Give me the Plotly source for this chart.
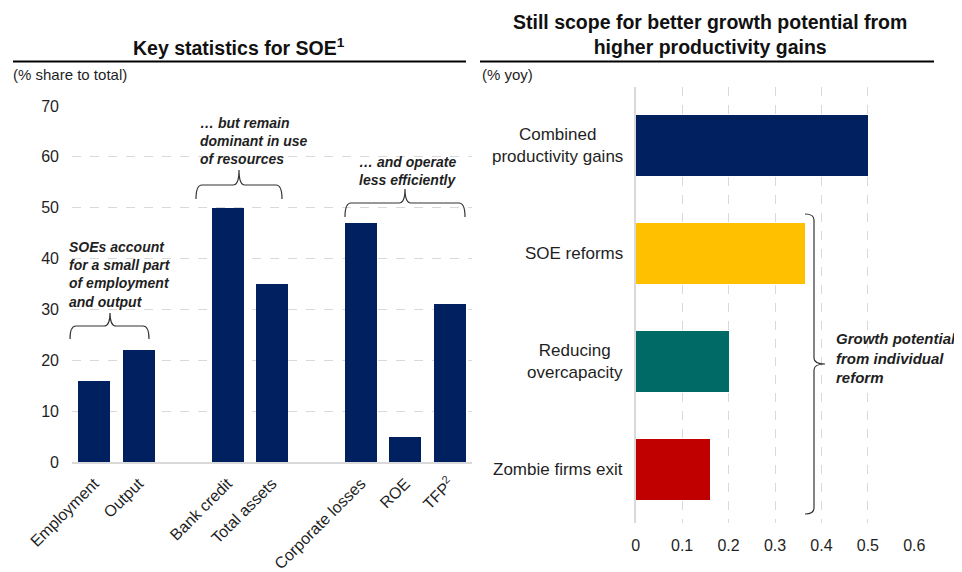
import plotly.graph_objects as go

# page is rendered with an 8px body margin; work in page pixels
OFF = 8
W, H = 962 - OFF, 572 - OFF

# ---------------- data ----------------
# Left chart: key statistics for SOE (% share to total)
soe_groups = [
    ["Employment", "Output"],
    ["Bank credit", "Total assets"],
    ["Corporate losses", "ROE", "TFP<sup>2</sup>"],
]
soe_values = [16, 22, 50, 35, 47, 5, 31]
left_yticks = [0, 10, 20, 30, 40, 50, 60, 70]

# Right chart: growth potential (% yoy)
reforms = ["Combined<br>productivity gains", "SOE reforms", "Reducing<br>overcapacity", "Zombie firms exit"]
growth = [0.5, 0.365, 0.2, 0.16]
right_xticks = [0, 0.1, 0.2, 0.3, 0.4, 0.5, 0.6]

# ---------------- styles ----------------
NAVY = "#002060"
reform_colors = ["#002060", "#FFC000", "#006A66", "#C00000"]
TXT = "#1f1f1f"
GRID = "#d9d9d9"
FONT = "Liberation Sans, Arial, sans-serif"


def px(x):
    return (x - OFF) / W


def py(y):
    return 1 - (y - OFF) / H


def pt(x, y):
    return f"{px(x):.5f},{py(y):.5f}"


soe_categories = [c for g in soe_groups for c in g]
category_array = []
for i, g in enumerate(soe_groups):
    if i > 0:
        category_array.append(" " * i)
    category_array.extend(g)

fig = go.Figure()

fig.add_trace(go.Bar(
    x=soe_categories, y=soe_values, marker_color=NAVY, width=0.72,
    xaxis="x", yaxis="y", showlegend=False,
))

fig.add_trace(go.Bar(
    x=growth, y=reforms, orientation="h", marker_color=reform_colors, width=0.565,
    xaxis="x2", yaxis="y2", showlegend=False,
))

fig.update_layout(
    template="none",
    width=W, height=H, autosize=False,
    margin=dict(l=0, r=0, t=0, b=0, pad=0),
    paper_bgcolor="white", plot_bgcolor="white",
    font=dict(family=FONT, color=TXT),
    bargap=0,
    xaxis=dict(
        domain=[px(72), px(472)], anchor="y", automargin=False,
        type="category", categoryorder="array", categoryarray=category_array,
        range=[-0.5, len(category_array) - 0.5],
        tickvals=soe_categories,
        tickangle=-45, tickfont=dict(size=16, color=TXT),
        showgrid=False, zeroline=False,
        showline=True, linecolor=GRID, linewidth=2,
        ticks="", ticklabelstandoff=4,
    ),
    yaxis=dict(
        domain=[py(462), py(106)], anchor="x", automargin=False,
        range=[0, 70], tickvals=left_yticks,
        tickfont=dict(size=16, color=TXT),
        showgrid=True, gridcolor=GRID, griddash="dash", gridwidth=1,
        zeroline=False, showline=False, ticks="", ticklabelstandoff=12,
    ),
    xaxis2=dict(
        domain=[px(635.7), px(914.3)], anchor="y2", automargin=False,
        range=[0, 0.6], tickvals=right_xticks,
        tickfont=dict(size=16, color=TXT),
        showgrid=True, gridcolor=GRID, griddash="dash", gridwidth=1,
        zeroline=False, showline=False, ticks="", ticklabelstandoff=11,
    ),
    yaxis2=dict(
        domain=[py(523.3), py(87)], anchor="x2", automargin=False,
        type="category", categoryorder="array", categoryarray=reforms,
        range=[3.5, -0.54],
        showticklabels=False, showgrid=False, zeroline=False,
        showline=True, linecolor=GRID, linewidth=2, ticks="",
    ),
)

annotations = []

# Titles
annotations.append(dict(
    text="<b>Key statistics for SOE<sup>1</sup></b>", x=px(239), y=py(47),
    xref="paper", yref="paper", xanchor="center", yanchor="middle",
    showarrow=False, font=dict(size=19.5, color="#111"),
))
annotations.append(dict(
    text="<b>Still scope for better growth potential from<br>higher productivity gains</b>",
    x=px(710), y=py(34), xref="paper", yref="paper", xanchor="center", yanchor="middle",
    showarrow=False, font=dict(size=19.5, color="#111"),
))
# Units
annotations.append(dict(
    text="(% share to total)", x=px(11), y=py(75), xref="paper", yref="paper",
    xanchor="left", yanchor="middle", showarrow=False, font=dict(size=15, color=TXT),
))
annotations.append(dict(
    text="(% yoy)", x=px(480), y=py(74), xref="paper", yref="paper",
    xanchor="left", yanchor="middle", showarrow=False, font=dict(size=15, color=TXT),
))

# Left bracket comments
left_notes = [
    ("SOEs account<br>for a small part<br>of employment<br>and output", 67, 274),
    ("… but remain<br>dominant in use<br>of resources", 198, 141),
    ("… and operate<br>less efficiently", 357, 171.4),
]
for t, x, y in left_notes:
    annotations.append(dict(
        text=f"<b><i>{t}</i></b>", x=px(x), y=py(y), xref="paper", yref="paper",
        xanchor="left", yanchor="middle", align="left", showarrow=False,
        font=dict(size=14, color=TXT),
    ))

annotations.append(dict(
    text="<b><i>Growth potential<br>from individual<br>reform</i></b>", x=px(834), y=py(358),
    xref="paper", yref="paper", xanchor="left", yanchor="middle", align="left",
    showarrow=False, font=dict(size=15, color=TXT),
))

# Right category labels (centred multi-line)
for r in reforms:
    annotations.append(dict(
        text=r, x=px(625), y=r, xref="paper", yref="y2",
        xanchor="right", yanchor="middle", align="center", showarrow=False,
        font=dict(size=17, color=TXT),
    ))

shapes = []
# Lines under titles
shapes.append(dict(type="line", xref="paper", yref="paper", x0=px(13), x1=px(466),
                   y0=py(61.5), y1=py(61.5), line=dict(color="black", width=2)))
shapes.append(dict(type="line", xref="paper", yref="paper", x0=px(480), x1=px(934),
                   y0=py(61.5), y1=py(61.5), line=dict(color="black", width=2)))


def hbrace(x0, x1, xm, y_end, y_h, y_peak, r=6):
    return (f"M {pt(x0, y_end)} Q {pt(x0, y_h)} {pt(x0 + r, y_h)} "
            f"L {pt(xm - r, y_h)} Q {pt(xm, y_h)} {pt(xm, y_peak)} "
            f"Q {pt(xm, y_h)} {pt(xm + r, y_h)} L {pt(x1 - r, y_h)} "
            f"Q {pt(x1, y_h)} {pt(x1, y_end)}")


def vbrace(y0, y1, ym, x_end, x_v, x_peak, r=6):
    return (f"M {pt(x_end, y0)} Q {pt(x_v, y0)} {pt(x_v, y0 + r)} "
            f"L {pt(x_v, ym - r)} Q {pt(x_v, ym)} {pt(x_peak, ym)} "
            f"Q {pt(x_v, ym)} {pt(x_v, ym + r)} L {pt(x_v, y1 - r)} "
            f"Q {pt(x_v, y1)} {pt(x_end, y1)}")


brace_line = dict(color="#333333", width=1.2)
for args in [(70, 149, 110, 339, 326, 313), (196, 282, 239, 199, 185, 170), (345, 465, 405, 217, 203, 189)]:
    shapes.append(dict(type="path", xref="paper", yref="paper", path=hbrace(*args), line=brace_line))
shapes.append(dict(type="path", xref="paper", yref="paper",
                   path=vbrace(214, 514, 364, 805, 814, 825), line=brace_line))

fig.update_layout(annotations=annotations, shapes=shapes)

fig.write_html("out.html")
